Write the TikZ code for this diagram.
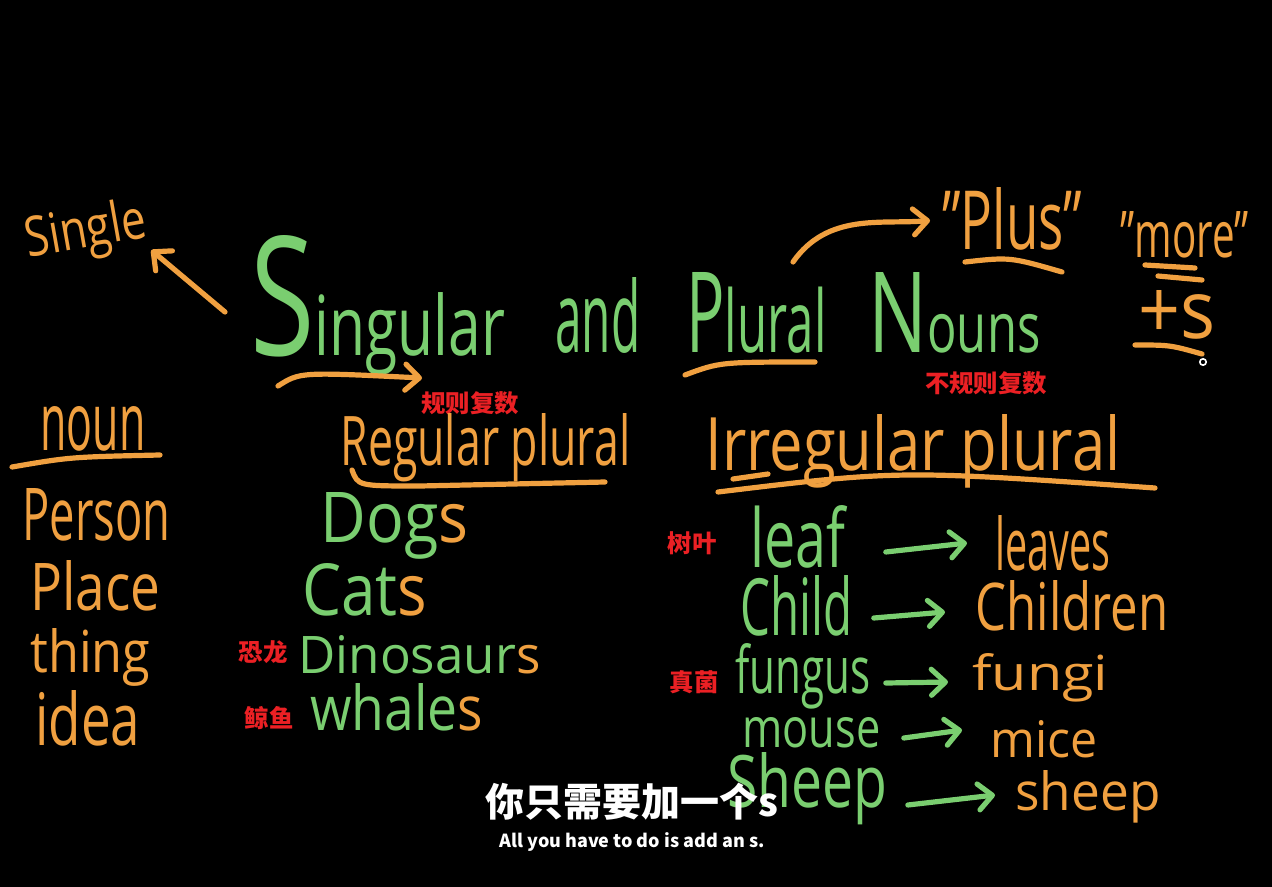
\documentclass[tikz,border=0pt]{standalone}
\usepackage{fontspec}
\usepackage{graphicx}
\setmainfont{Open Sans}
\newfontfamily\cjk{Noto Sans CJK SC}
\usetikzlibrary{arrows.meta}
\definecolor{chalkorange}{RGB}{240,160,64}
\definecolor{chalkgreen}{RGB}{122,206,112}
\definecolor{notered}{RGB}{235,32,36}
\newlength\pxu
\setlength\pxu{0.5pt}
\newcommand\hw[3]{\resizebox{#1\pxu}{#2\pxu}{#3}}

\begin{document}
\begin{tikzpicture}[x=0.5pt,y=-0.5pt,
  hand/.style={inner sep=0pt,anchor=base west},
  og/.style={hand,text=chalkorange},
  gr/.style={hand,text=chalkgreen},
  chalkline/.style={draw=chalkorange,line width=2.6pt,line cap=round},
  oarrow/.style={chalkline,-{Straight Barb[round,length=7pt,width=13pt]}},
  garrow/.style={draw=chalkgreen,line width=2.6pt,line cap=round,-{Straight Barb[round,length=7pt,width=13pt]}},
  cn/.style={text=notered,inner sep=0pt,font=\cjk\bfseries\fontsize{12.2pt}{13pt}\selectfont}]
  \fill[black] (0,0) rectangle (1272,887);
  \useasboundingbox (0,0) rectangle (1272,887);

  % title
  \node[gr] (wsingular) at (250,355) {\hw{255}{120}{\scalebox{2}{S}ingular}};
  \node[gr] (wand) at (555,352) {\hw{85}{75}{and}};
  \node[gr] (wplural) at (686,352) {\hw{140}{80}{\scalebox{1.3}{P}lural}};
  \node[gr] (wnouns) at (868,352) {\hw{172}{80}{\scalebox{1.6}{N}ouns}};
  \draw[oarrow] (278,386) .. controls (300,372) .. (422,378);
  \draw[chalkline] (685,375) .. controls (720,362) .. (815,362);

  % single
  \node[og,rotate=10] (single) at (28,258) {\hw{122}{42}{Single}};
  \coordinate (singtail) at (225,312);
  \draw[oarrow] (singtail) -- (single.south east);

  % plus, more, +s
  \node[og] (plus) at (942,250) {\hw{140}{62}{"Plus"}};
  \node[og] (more) at (1120,258) {\hw{128}{46}{"more"}};
  \node[og] (pluss) at (1138,338) {\hw{77}{48}{+s}};
  \coordinate (plustail) at (793,262);
  \draw[oarrow,shorten >=6pt] (plustail) to[out=55,in=185] (plus.west);
  \draw[chalkline] (965,262) .. controls (1010,257) .. (1062,272);
  \draw[chalkline] (1145,265) -- (1195,268);
  \draw[chalkline] (1158,276) -- (1202,280);
  \draw[chalkline] (1135,345) .. controls (1170,345) .. (1202,354);
  \draw[white,line width=0.8pt] (1203,362) circle (1.6pt);

  % red notes
  \node[cn] (nreg) at (470,403) {规则复数};
  \node[cn] (nirr) at (986,383) {不规则复数};
  \node[cn] (nleaf) at (692,543) {树叶};
  \node[cn] (nfung) at (694,682) {真菌};
  \node[cn] (ndino) at (263,652) {恐龙};
  \node[cn] (nwhale) at (269,718) {鲸鱼};

  % noun column
  \node[og] (noun) at (40,450) {\hw{105}{44}{noun}};
  \draw[chalkline] (12,467) .. controls (70,457) .. (160,455);
  \node[og] (person) at (22,540) {\hw{148}{52}{Person}};
  \node[og] (place) at (30,610) {\hw{130}{50}{Place}};
  \node[og] (thing) at (30,672) {\hw{120}{44}{thing}};
  \node[og] (idea) at (35,745) {\hw{105}{55}{idea}};

  % regular plural
  \node[og] (regular) at (340,465) {\hw{290}{52}{Regular plural}};
  \draw[chalkline] (352,470) .. controls (358,486) .. (420,486) -- (605,482);
  \node[gr] (dogs) at (320,542) {\hw{148}{50}{Dog{\color{chalkorange}s}}};
  \node[gr] (cats) at (302,615) {\hw{125}{52}{Cat{\color{chalkorange}s}}};
  \node[gr] (dinos) at (298,673) {\hw{242}{38}{Dinosaur{\color{chalkorange}s}}};
  \node[gr] (whales) at (310,730) {\hw{173}{47}{whale{\color{chalkorange}s}}};

  % irregular plural
  \node[og] (irregular) at (705,470) {\hw{415}{56}{Irregular plural}};
  \draw[chalkline] (718,492) .. controls (900,470) .. (1155,488);
  \draw[chalkline] (733,479) -- (768,474);
  \node[gr] (leaf) at (750,567) {\hw{95}{62}{leaf}};
  \node[og] (leaves) at (995,570) {\hw{115}{55}{leaves}};
  \node[gr] (child) at (740,635) {\hw{112}{60}{Child}};
  \node[og] (children) at (975,630) {\hw{193}{50}{Children}};
  \node[gr] (fungus) at (735,693) {\hw{135}{50}{fungus}};
  \node[og] (fungi) at (972,690) {\hw{136}{37}{fungi}};
  \node[gr] (mouse) at (742,747) {\hw{138}{30}{mouse}};
  \node[og] (mice) at (990,757) {\hw{107}{37}{mice}};
  \node[gr] (sheep) at (727,807) {\hw{160}{55}{Sheep}};
  \node[og] (sheeps) at (1015,810) {\hw{145}{40}{sheep}};
  \draw[garrow] ([shift={(20pt,7.5pt)}]leaf.base east) -- ([shift={(-14pt,13.5pt)}]leaves.base west);
  \draw[garrow] ([shift={(10.5pt,8.5pt)}]child.base east) -- ([shift={(-15pt,9pt)}]children.base west);
  \draw[garrow] ([shift={(7.5pt,5pt)}]fungus.base east) -- ([shift={(-12pt,4pt)}]fungi.base west);
  \draw[garrow] ([shift={(11.5pt,4.5pt)}]mouse.base east) -- ([shift={(-14pt,13.5pt)}]mice.base west);
  \draw[garrow] ([shift={(10pt,1pt)}]sheep.base east) -- ([shift={(-10pt,7.5pt)}]sheeps.base west);

  % subtitles
  \node[text=white,inner sep=0pt,font=\cjk\bfseries\fontsize{19.5pt}{20pt}\selectfont] (subcn) at (632,802) {你只需要加一个s};
  \node[text=white,inner sep=0pt,font=\cjk\bfseries\fontsize{9pt}{10pt}\selectfont] (suben) at (632,842) {All you have to do is add an s.};
\end{tikzpicture}
\end{document}
